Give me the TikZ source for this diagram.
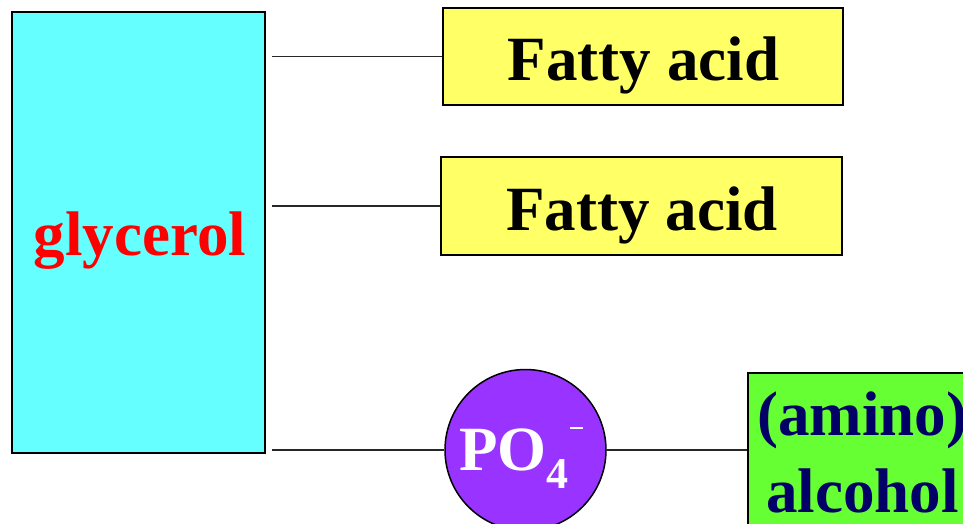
\documentclass[tikz,border=0pt]{standalone}
\usepackage{fontspec}
\setmainfont{Liberation Serif}
\definecolor{glyc}{HTML}{66FFFF}
\definecolor{fatty}{HTML}{FFFF66}
\definecolor{phos}{HTML}{9933FF}
\definecolor{alc}{HTML}{66FF33}
\definecolor{navy}{HTML}{000066}
\tikzset{
  box/.style={draw=black, line width=1.5pt, rectangle, inner sep=0pt},
  lbl/.style={anchor=base, inner sep=0pt, font=\fontsize{63}{75}\selectfont\bfseries},
  conn/.style={line width=1.8pt, draw=black!85}
}
\begin{document}
\begin{tikzpicture}[x=1pt,y=-1pt]
\useasboundingbox (0,0) rectangle (963,523);
\clip (0,0) rectangle (963,523);
\node[box, fill=glyc, minimum width=253pt, minimum height=441pt] (glyc) at (138.5,232.5) {};
\node[lbl, text=red] (glyct) at (140,255) {glycerol};
\node[box, fill=fatty, minimum width=400pt, minimum height=97pt] (fa1) at (643,56.5) {};
\node[lbl] (fa1t) at (643.5,80) {Fatty acid};
\node[box, fill=fatty, minimum width=401pt, minimum height=98pt] (fa2) at (641.5,206) {};
\node[lbl] (fa2t) at (642,230) {Fatty acid};
\node[circle, draw=black, line width=1.5pt, fill=phos, minimum size=161pt, inner sep=0pt] (po) at (525.5,450) {};
\node[lbl, anchor=base west, text=white] (pot) at (459,470) {PO};
\node[anchor=base west, inner sep=0pt, text=white, font=\fontsize{44}{46}\selectfont\bfseries] (po4) at (546,488) {4};
\draw[line width=2.5pt, white] (570,428) -- (583,428);
\node[box, fill=alc, minimum width=240pt, minimum height=170pt] (alc) at (868,458) {};
\node[lbl, anchor=base west, text=navy] (alc1) at (757,435) {(amino)};
\node[lbl, anchor=base west, text=navy] (alc2) at (766,512) {alcohol};
\draw[conn, shorten <=6pt] (glyc.east |- fa1.west) -- (fa1.west);
\draw[conn, shorten <=6pt] (glyc.east |- fa2.west) -- (fa2.west);
\draw[conn, shorten <=6pt] (glyc.east |- po.west) -- (po.west);
\draw[conn] (po.east) -- (po.east -| alc.west);
\end{tikzpicture}
\end{document}
